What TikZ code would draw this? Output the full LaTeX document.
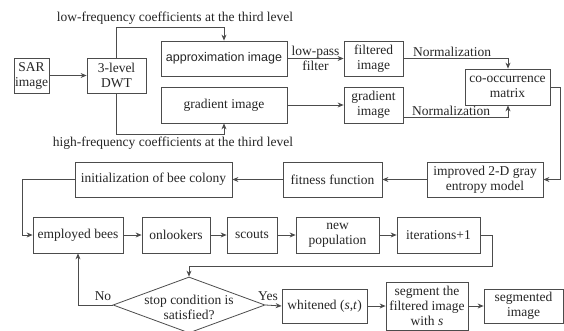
\documentclass[tikz,border=0pt]{standalone}
\usepackage{fontspec}
\setmainfont{Liberation Serif}
\newfontfamily\sansf{Liberation Sans}
\usetikzlibrary{arrows.meta,shapes.geometric,calc}
\begin{document}
\begin{tikzpicture}[x=1pt,y=-1pt,
  box/.style={draw=black!70, line width=0.8pt, align=center, inner sep=0pt, text=black!85, font=\fontsize{13.5}{15}\selectfont},
  lbl/.style={align=center, inner sep=0pt, text=black!85, font=\fontsize{13.5}{15}\selectfont},
  arr/.style={draw=black!70, line width=0.8pt, -{Stealth[length=6pt,width=5pt,inset=2pt]}},
  ln/.style={draw=black!70, line width=0.8pt}]
\useasboundingbox (0,0) rectangle (564,331);
\fill[white] (0,0) rectangle (564,331);
% top part
\node[box, minimum width=35pt, minimum height=35pt] (sar) at (31.5,75.5) {SAR\\image};
\node[box, minimum width=59pt, minimum height=35pt] (dwt) at (116.5,75.5) {3-level\\DWT};
\node[box, minimum width=126pt, minimum height=35pt, font=\sansf\fontsize{12.5}{15}\selectfont] (approx) at (224,58.5) {approximation image};
\node[box, minimum width=126pt, minimum height=36pt] (grad) at (224,105) {gradient image};
\node[box, minimum width=59pt, minimum height=35pt] (filt) at (373.5,58.5) {filtered\\image};
\node[box, minimum width=59pt, minimum height=36pt] (grad2) at (373.5,105) {gradient\\image};
\node[box, minimum width=85pt, minimum height=36pt] (cooc) at (507.5,87) {co-occurrence\\matrix};
\node[lbl] (lowtxt) at (175,18) {low-frequency coefficients at the third level};
\node[lbl] (hightxt) at (173,143) {high-frequency coefficients at the third level};
\coordinate (lowtop) at (224,27);
\coordinate (highbot) at (224,134);
\draw[arr] (sar) -- (dwt);
\draw[arr] (dwt.north) |- (lowtop) -- (approx.north);
\draw[arr] (dwt.south) |- (highbot) -- (grad.south);
\draw[arr] (approx) -- (filt);
\node[lbl] (lp) at (315.5,58) {low-pass\\filter};
\draw[arr] (grad) -- (grad2);
\coordinate (n1) at (508,58.5);
\draw[arr] (filt.east) -- (n1) -- (cooc.north -| n1);
\node[lbl, anchor=south] (norm1) at (452,57) {Normalization};
\coordinate (g2o) at (403,117);
\coordinate (n2) at (508,117);
\draw[arr] (g2o) -- (n2) -- (cooc.south -| n2);
\node[lbl, anchor=south] (norm2) at (451,116) {Normalization};
% second row
\node[box, minimum width=116pt, minimum height=35pt] (impr) at (485,179.5) {improved 2-D gray\\entropy model};
\node[box, minimum width=99pt, minimum height=35pt] (fit) at (332.5,179.5) {fitness function};
\node[box, minimum width=157pt, minimum height=35pt] (init) at (153.5,179.5) {initialization of bee colony};
\coordinate (c1) at (560,87);
\draw[arr] (cooc.east) -- (c1) |- (impr.east);
\draw[arr] (impr) -- (fit);
\draw[arr] (fit) -- (init);
% third row
\node[box, minimum width=90pt, minimum height=36pt] (emp) at (78,235) {employed bees};
\node[box, minimum width=68pt, minimum height=36pt] (onl) at (176,235) {onlookers};
\node[box, minimum width=50pt, minimum height=36pt] (sco) at (252,235) {scouts};
\node[box, minimum width=83pt, minimum height=36pt] (newp) at (337.5,235) {new\\population};
\node[box, minimum width=83pt, minimum height=36pt] (iter) at (438.5,235) {iterations+1};
\coordinate (c2) at (22,179.5);
\draw[arr] (init.west) -- (c2) |- (emp.west);
\draw[arr] (emp) -- (onl);
\draw[arr] (onl) -- (sco);
\draw[arr] (sco) -- (newp);
\draw[arr] (newp) -- (iter);
% decision
\node[diamond, draw=black!70, line width=0.8pt, minimum width=152pt, minimum height=56pt, inner sep=0pt] (dia) at (189,305) {};
\node[lbl] (diatxt) at (189,307) {stop condition is\\satisfied?};
\coordinate (c3) at (492,235);
\coordinate (c4) at (492,266);
\draw[arr] (iter.east) -- (c3) -- (c4) -| (dia.north);
\draw[arr] (dia.west) -| (emp.south);
\node[lbl] (no) at (103,296) {No};
\node[box, minimum width=85pt, minimum height=34pt] (whit) at (324.5,306) {whitened (\textit{s},\textit{t})};
\node[box, minimum width=82pt, minimum height=48pt] (seg) at (427,306) {segment the\\filtered image\\with \textit{s}};
\node[box, minimum width=79pt, minimum height=34pt] (segd) at (523.5,306) {segmented\\image};
\draw[arr] (dia.east) -- (whit.west);
\node[lbl] (yes) at (268,296) {Yes};
\draw[arr] (whit) -- (seg);
\draw[arr] (seg) -- (segd);
\end{tikzpicture}
\end{document}
